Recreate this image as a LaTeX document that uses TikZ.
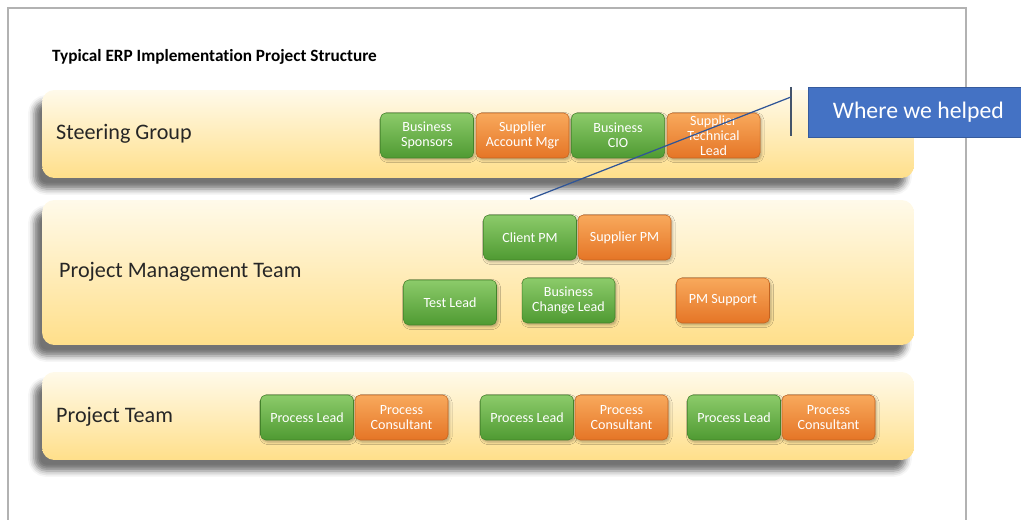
\documentclass[tikz,border=0pt]{standalone}
\usepackage{fontspec}
\setmainfont{Carlito}[Ligatures={NoCommon}]
\usetikzlibrary{positioning, shadows.blur}

\definecolor{bandtop}{HTML}{FFFAEA}
\definecolor{bandbot}{HTML}{FFDF8A}
\definecolor{greentop}{HTML}{8CCB6A}
\definecolor{greenbot}{HTML}{4F9A32}
\definecolor{orangetop}{HTML}{F8A95C}
\definecolor{orangebot}{HTML}{E57526}
\definecolor{callblue}{HTML}{4472C4}
\definecolor{barcolor}{HTML}{44546A}
\definecolor{linecolor}{HTML}{2F5597}
\definecolor{labeltext}{HTML}{262626}

\begin{document}
\begin{tikzpicture}[x=0.02cm,y=-0.02cm,
  bandstyle/.style={rounded corners=7pt,minimum width=17.44cm,top color=bandtop,bottom color=bandbot,
    blur shadow={shadow xshift=-0.16cm,shadow yshift=-0.22cm,shadow blur radius=0.12cm,shadow opacity=55}},
  boxstyle/.style={rounded corners=3pt,minimum width=1.86cm,minimum height=0.9cm,inner sep=1pt,align=center,
    text=white,font=\fontsize{8}{8.6}\selectfont,
    blur shadow={shadow xshift=0.03cm,shadow yshift=-0.04cm,shadow blur radius=0.05cm,shadow opacity=30}},
  greenstyle/.style={boxstyle,top color=greentop,bottom color=greenbot,draw=greenbot!85!black,line width=0.3pt},
  orangestyle/.style={boxstyle,top color=orangetop,bottom color=orangebot,draw=orangebot!85!black,line width=0.3pt},
  labelstyle/.style={anchor=west,text=labeltext,font=\fontsize{12.6}{15}\selectfont}]
  \useasboundingbox (0,0) rectangle (1021,520);

  % page frame
  \draw[gray!60,line width=0.8pt] (8,530) -- (8,8) -- (966,8) -- (966,530);

  \node[anchor=west,text=black,font=\bfseries\fontsize{9.8}{11}\selectfont] (title) at (46,57)
    {Typical ERP Implementation Project Structure};

  % the three bands
  \node[bandstyle,minimum height=1.76cm] (steering) at (478,134) {};
  \node[bandstyle,minimum height=2.9cm] (pmteam) at (478,272.5) {};
  \node[bandstyle,minimum height=1.76cm] (projteam) at (478,416) {};

  \node[labelstyle] (steerlabel) at (50,134) {Steering Group};
  \node[labelstyle] (pmlabel) at (53,272) {Project Management Team};
  \node[labelstyle] (projlabel) at (50,417) {Project Team};

  % steering group
  \node[greenstyle] (sponsors) at (427,135.5) {Business\\Sponsors};
  \node[orangestyle,right=0.04cm of sponsors] (accmgr) {Supplier\\Account Mgr};
  \node[greenstyle,right=0.04cm of accmgr] (cio) {Business\\CIO};
  \node[orangestyle,right=0.04cm of cio] (techlead) {Supplier\\Technical\\Lead};

  % project management team
  \node[greenstyle] (clientpm) at (530,237.5) {Client PM};
  \node[orangestyle,right=0.02cm of clientpm] (supplierpm) {Supplier PM};
  \node[greenstyle] (testlead) at (450,302.5) {Test Lead};
  \node[greenstyle] (changelead) at (568.5,300.5) {Business\\Change Lead};
  \node[orangestyle] (pmsupport) at (723,300.5) {PM Support};

  % project team
  \foreach \x [count=\i] in {307,527,734}
    {\node[greenstyle] (lead\i) at (\x,417.5) {Process Lead};
     \node[orangestyle,right=0.02cm of lead\i] (consult\i) {Process\\Consultant};}

  % callout
  \node[fill=callblue,draw=callblue!80!black,anchor=west,minimum width=4.4cm,minimum height=1cm,
    text=white,font=\fontsize{13.5}{16}\selectfont] (helped) at (808,112) {Where we helped};
  \coordinate (bartop) at (791,87);
  \coordinate (barbot) at (791,136);
  \coordinate (barmid) at (791,97);
  \coordinate (pointer) at (530,199);
  \draw[barcolor,line width=1pt] (bartop) -- (barbot);
  \draw[linecolor,line width=0.7pt] (barmid) -- (pointer);

\end{tikzpicture}
\end{document}
